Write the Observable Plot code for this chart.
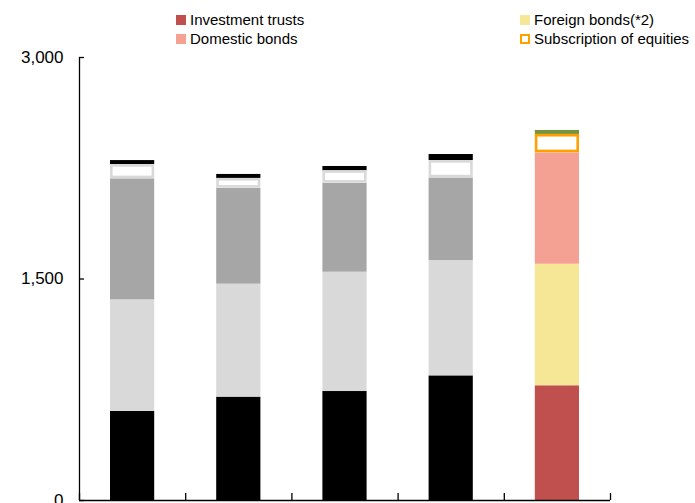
<!DOCTYPE html>
<html>
<head>
<meta charset="utf-8">
<script src="https://cdn.jsdelivr.net/npm/d3@7"></script>
<script src="https://cdn.jsdelivr.net/npm/@observablehq/plot@0.6"></script>
<style>
  html, body { margin: 0; padding: 0; background: #fff; overflow: hidden; width: 695px; height: 503px; }
  #legend { position: relative; height: 48px; font-family: "Liberation Sans", Arial, sans-serif; font-size: 15px; color: #000; }
  .item { position: absolute; display: flex; align-items: center; line-height: 19px; white-space: nowrap; }
  .sw { width: 10px; height: 10px; margin-right: 4px; box-sizing: border-box; }
</style>
</head>
<body>
<div id="legend"></div>
<div id="chart"></div>
<script>
// Categories (period labels are cut off in the reference)
const categories = ["P1", "P2", "P3", "P4", "P5"];
const seriesNames = ["Investment trusts", "Foreign bonds(*2)", "Domestic bonds", "Subscription of equities", "Others"];
// Series values (stack order bottom to top)
const investmentTrusts     = [603, 700, 738, 844, 777];
const foreignBonds         = [756, 765, 808, 781, 823];
const domesticBonds        = [820, 650, 603, 560, 755];
const subscriptionEquities = [96, 66, 84, 117, 124];
const others               = [27, 27, 29, 41, 27];
const yTicks = [0, 1500, 3000];

// Styling
const pastFill   = ["#000000", "#d9d9d9", "#a6a6a6", "#ffffff", "#000000"];
const pastStroke = ["none", "none", "none", "#d9d9d9", "none"];
const latestFill   = ["#c0504d", "#f5e796", "#f4a193", "#ffffff", "#77933c"];
const latestStroke = ["none", "none", "none", "#ffa000", "none"];

const seriesValues = [investmentTrusts, foreignBonds, domesticBonds, subscriptionEquities, others];
const rows = [];
categories.forEach((c, i) => {
  const latest = i === categories.length - 1;
  seriesNames.forEach((s, k) => {
    rows.push({
      category: c, i0: i, i1: i + 1, series: s, value: seriesValues[k][i],
      fill: (latest ? latestFill : pastFill)[k],
      stroke: (latest ? latestStroke : pastStroke)[k],
      sw: latest ? 3 : 2
    });
  });
});

// Legend
const legendItems = [
  {name: seriesNames[0], fill: latestFill[0], border: null, left: 176, top: 10},
  {name: seriesNames[1], fill: latestFill[1], border: null, left: 520, top: 10},
  {name: seriesNames[2], fill: latestFill[2], border: null, left: 176, top: 29},
  {name: seriesNames[3], fill: "#ffffff", border: latestStroke[3], left: 520, top: 29}
];
const lg = document.getElementById("legend");
legendItems.forEach(it => {
  const d = document.createElement("div");
  d.className = "item";
  d.style.left = it.left + "px";
  d.style.top = it.top + "px";
  const sw = document.createElement("span");
  sw.className = "sw";
  sw.style.background = it.fill;
  if (it.border) sw.style.border = "2px solid " + it.border;
  d.appendChild(sw);
  d.appendChild(document.createTextNode(it.name));
  lg.appendChild(d);
});

const xBounds = d3.range(categories.length + 1);
const inset = 31;

const chart = Plot.plot({
  width: 695,
  height: 485,
  marginTop: 9,
  marginBottom: 33,
  marginLeft: 79,
  marginRight: 85,
  style: {fontFamily: "'Liberation Sans', Arial, sans-serif", fontSize: "17px", color: "#000", background: "#fff"},
  x: {domain: [0, categories.length], axis: null},
  y: {domain: [0, 3000], axis: null},
  marks: [
    Plot.rectY(rows, Plot.stackY({x1: "i0", x2: "i1", y: "value", fill: "fill", insetLeft: inset, insetRight: inset})),
    Plot.rectY(rows, Plot.stackY({x1: "i0", x2: "i1", y: "value", fill: "none", stroke: "stroke", strokeWidth: 2.6,
      insetLeft: inset + 1.3, insetRight: inset + 1.3, insetTop: 1.3, insetBottom: 1.3})),
    Plot.ruleX([0], {stroke: "#000", strokeWidth: 1.3}),
    Plot.ruleY([0], {stroke: "#000", strokeWidth: 1.3}),
    Plot.axisX(xBounds, {tickSize: 7, dy: -7, tickFormat: () => "", label: null, stroke: "#000", strokeWidth: 1.3}),
    Plot.axisY(yTicks, {tickSize: 5, dx: 5, tickFormat: () => "", label: null, stroke: "#000", strokeWidth: 1.3}),
    Plot.axisY(yTicks, {tickSize: 0, tickPadding: 16, tickFormat: d3.format(","), label: null, fontSize: 17, fill: "#000"})
  ]
});
document.getElementById("chart").appendChild(chart);
</script>
</body>
</html>
